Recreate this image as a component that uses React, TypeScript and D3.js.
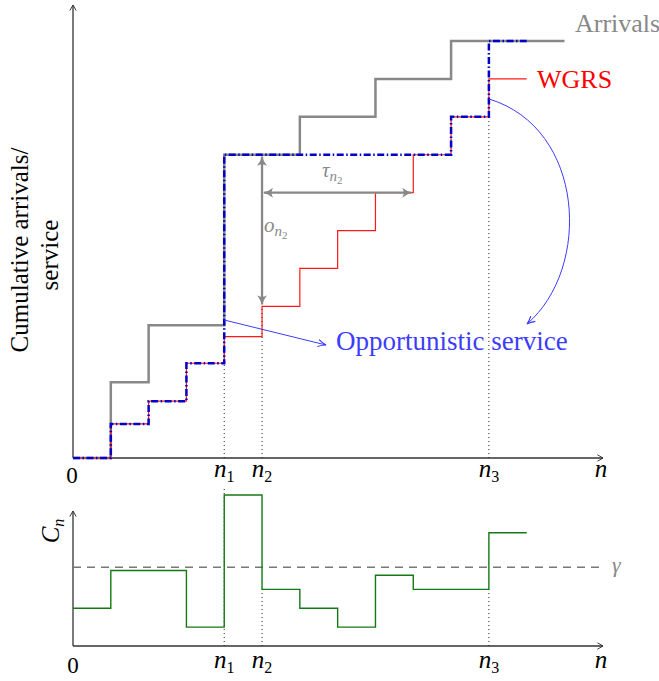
import React from "react";
import * as d3 from "d3";

// Step levels: slot i spans n ∈ [i, i+1)
const arrivals = [0, 2, 3.5, 3.5, 8, 8, 9, 9, 10, 10, 11, 11, 11];
const wgrs = [0, 0.9, 1.5, 2.5, 3.2, 4, 5, 6, 7, 8, 9, 10];
const opportunistic = [0, 0.9, 1.5, 2.5, 8, 8, 8, 8, 8, 8, 9, 11];
const cost = [2, 4, 4, 1, 8, 3, 2, 1, 3.75, 3, 3, 6];
const gamma = 4.17;

// Marked time slots
const marks = [
  { n: 4, sub: "1", topLevel: 3.2, botLevel: 8 },
  { n: 5, sub: "2", topLevel: 4, botLevel: 3 },
  { n: 11, sub: "3", topLevel: 9, botLevel: 3 },
];
const tauFrom = 5;
const tauTo = 9;
const tauLevel = 7;

const W = 659;
const H = 681;

const x = d3.scaleLinear().domain([0, 13]).range([73, 564.5]);
const yTop = d3.scaleLinear().domain([0, 11]).range([458, 41]);
const yBot = d3.scaleLinear().domain([0, 8]).range([646, 495]);

function stepPath(levels: number[], y: d3.ScaleLinear<number, number>) {
  const pts: [number, number][] = levels.map((v, i) => [i, v]);
  pts.push([levels.length, levels[levels.length - 1]]);
  return (
    d3
      .line<[number, number]>()
      .x((d) => x(d[0]))
      .y((d) => y(d[1]))
      .curve(d3.curveStepAfter)(pts) || ""
  );
}

const serif = "Liberation Serif, Tinos, Times New Roman, Times, DejaVu Serif, serif";

function NLabel({ cx, y, sub }: { cx: number; y: number; sub?: string }) {
  return (
    <text x={cx} y={y} textAnchor="middle" style={{ fontFamily: serif }} fontSize={25}>
      <tspan fontStyle="italic">n</tspan>
      {sub ? (
        <tspan fontSize={16} dy={5}>
          {sub}
        </tspan>
      ) : null}
    </text>
  );
}

export default function App() {
  const gray = "#888888";
  const blue = "#3c3cff";
  const axisColor = "#333";
  const top0 = yTop(0);
  const bot0 = yBot(0);

  return (
    <svg
      width={W}
      height={H}
      style={{ position: "absolute", left: 0, top: 0, background: "#fff", fontFamily: serif }}
    >
      <defs>
        <marker id="axArrow" viewBox="0 0 10 10" refX="9" refY="5" markerWidth="8" markerHeight="8" orient="auto" markerUnits="userSpaceOnUse">
          <path d="M2,1 L9,5 L2,9" fill="none" stroke={axisColor} strokeWidth={1.2} />
        </marker>
        <marker id="grayArrow" viewBox="0 0 12 12" refX="10" refY="6" markerWidth="12" markerHeight="12" orient="auto-start-reverse" markerUnits="userSpaceOnUse">
          <path d="M1,1 Q6,5 11,6 Q6,7 1,11 Q4,6 1,1 Z" fill={gray} />
        </marker>
        <marker id="blueArrow" viewBox="0 0 10 10" refX="9" refY="5" markerWidth="10" markerHeight="10" orient="auto" markerUnits="userSpaceOnUse">
          <path d="M1,1.5 Q5,4 9,5 Q5,6 1,8.5" fill="none" stroke={blue} strokeWidth={1.2} />
        </marker>
      </defs>

      {/* Top panel: cumulative arrivals / service */}
      <line x1={73} y1={top0} x2={73} y2={5} stroke={axisColor} strokeWidth={1.3} markerEnd="url(#axArrow)" />
      <line x1={73} y1={top0} x2={603} y2={top0} stroke={axisColor} strokeWidth={1.3} markerEnd="url(#axArrow)" />

      {marks.map((m) => (
        <line key={"dt" + m.sub} x1={x(m.n)} x2={x(m.n)} y1={top0} y2={yTop(m.topLevel)} stroke="#222" strokeWidth={1} strokeDasharray="1 3" />
      ))}

      <path d={stepPath(arrivals, yTop)} fill="none" stroke={gray} strokeWidth={2.5} />
      <path d={stepPath(wgrs, yTop)} fill="none" stroke="#ff0000" strokeWidth={1.2} opacity={0.9} />
      <path d={stepPath(opportunistic, yTop)} fill="none" stroke="#0000c8" strokeWidth={2.5} strokeDasharray="7 2.5 1.5 2.5" />

      {/* tau and o annotations */}
      <line x1={x(tauFrom) + 2} x2={x(tauTo) - 2} y1={yTop(tauLevel)} y2={yTop(tauLevel)} stroke={gray} strokeWidth={2.3} markerStart="url(#grayArrow)" markerEnd="url(#grayArrow)" />
      <line x1={x(tauFrom)} x2={x(tauFrom)} y1={yTop(8) + 2} y2={yTop(4) - 2} stroke={gray} strokeWidth={2.3} markerStart="url(#grayArrow)" markerEnd="url(#grayArrow)" />
      <text x={322} y={177} fontSize={21} fill={gray}>
        <tspan fontStyle="italic">τ</tspan>
        <tspan fontSize={15} dy={4} fontStyle="italic">n</tspan>
        <tspan fontSize={11} dy={3}>2</tspan>
      </text>
      <text x={264} y={232} fontSize={21} fill={gray}>
        <tspan fontStyle="italic">o</tspan>
        <tspan fontSize={15} dy={4} fontStyle="italic">n</tspan>
        <tspan fontSize={11} dy={3}>2</tspan>
      </text>

      {/* Legend labels */}
      <text x={575} y={32} fontSize={26} fill={gray}>Arrivals</text>
      <text x={537} y={88} fontSize={26} fill="#ff0000">WGRS</text>

      {/* Opportunistic service callouts */}
      <line x1={x(4)} y1={320} x2={326} y2={345} stroke={blue} strokeWidth={1} markerEnd="url(#blueArrow)" />
      <path d="M489,99 C585,128 592,268 527,324" fill="none" stroke={blue} strokeWidth={1} markerEnd="url(#blueArrow)" />
      <text x={336} y={350} fontSize={27} fill={blue}>Opportunistic service</text>

      {/* Axis label */}
      <g transform="translate(28,250) rotate(-90)">
        <text x={0} y={0} textAnchor="middle" fontSize={25}>Cumulative arrivals/</text>
        <text x={-5} y={30} textAnchor="middle" fontSize={25}>service</text>
      </g>

      <text x={72} y={483} textAnchor="middle" fontSize={23}>0</text>
      {marks.map((m) => (
        <NLabel key={"lt" + m.sub} cx={x(m.n)} y={477} sub={m.sub} />
      ))}
      <NLabel cx={601} y={477} />

      {/* Bottom panel: C_n */}
      <line x1={73} y1={bot0} x2={73} y2={511} stroke={axisColor} strokeWidth={1.3} markerEnd="url(#axArrow)" />
      <line x1={73} y1={bot0} x2={603} y2={bot0} stroke={axisColor} strokeWidth={1.3} markerEnd="url(#axArrow)" />
      <line x1={73} x2={601} y1={yBot(gamma)} y2={yBot(gamma)} stroke="#777" strokeWidth={1.6} strokeDasharray="8 6" />
      <text x={612} y={572} fontSize={22} fontStyle="italic" fill={gray}>γ</text>

      {marks.map((m, i) => (
        <line key={"db" + m.sub} x1={x(m.n)} x2={x(m.n)} y1={bot0} y2={i === 0 ? 487 : yBot(m.botLevel)} stroke="#222" strokeWidth={1} strokeDasharray="1 3" />
      ))}
      <path d={stepPath(cost, yBot)} fill="none" stroke="#137a13" strokeWidth={1.4} />

      <text transform="translate(59,531) rotate(-90)" textAnchor="middle" fontSize={25}>
        <tspan fontStyle="italic">C</tspan>
        <tspan fontSize={16} dy={5} fontStyle="italic">n</tspan>
      </text>

      <text x={73} y={673} textAnchor="middle" fontSize={23}>0</text>
      {marks.map((m) => (
        <NLabel key={"lb" + m.sub} cx={x(m.n)} y={668} sub={m.sub} />
      ))}
      <NLabel cx={601} y={668} />
    </svg>
  );
}
